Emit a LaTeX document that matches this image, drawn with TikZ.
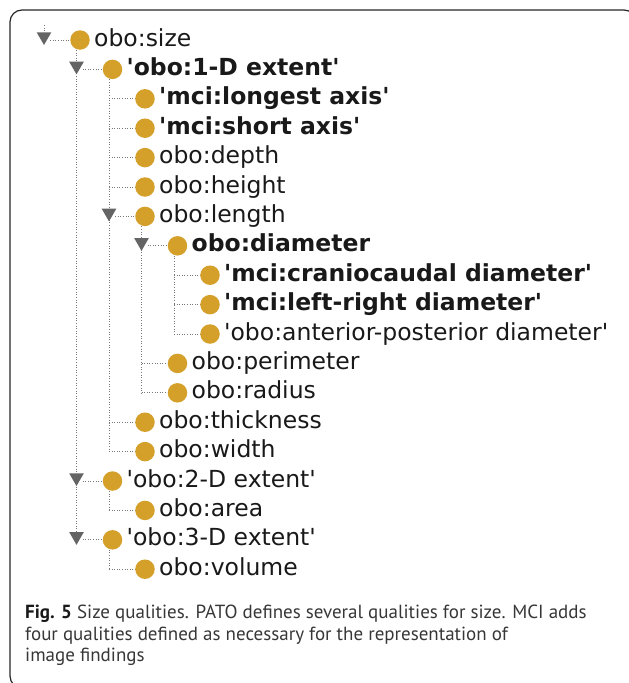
\documentclass[tikz,border=0pt]{standalone}
\usepackage{fontspec}
\usepackage{xcolor}
\usepackage{tikz}
\usetikzlibrary{shapes.geometric, positioning, backgrounds}
\newfontfamily\treefont{DejaVu Sans}
\newfontfamily\capfont{PT Sans}
\definecolor{clsgold}{RGB}{212, 160, 42}
\definecolor{toggray}{RGB}{100, 100, 100}
\definecolor{linegray}{RGB}{120, 120, 120}
\definecolor{txtdark}{RGB}{25, 25, 25}
\definecolor{captxt}{RGB}{55, 55, 55}
\tikzset{
    clsnode/.style = {circle, fill=clsgold, draw=none, minimum size=19.5pt, inner sep=0pt},
    lblnode/.style = {anchor=west, inner sep=0pt, text height=17pt, text depth=5pt,
      text=txtdark, font=\treefont\fontsize{23.5}{28}\selectfont},
    tognode/.style = {regular polygon, regular polygon sides=3, shape border rotate=180,
      fill=toggray, draw=none, minimum size=17pt, inner sep=0pt},
    tline/.style = {draw=linegray, line width=1pt, dash pattern=on 1pt off 1.6pt},
    frame/.style = {draw=black!85, line width=1.2pt, rounded corners=12pt}
}

\begin{document}
\begin{tikzpicture}[x=1pt, y=-1pt]
    \useasboundingbox (0,0) rectangle (629,683);
    \draw[frame] (10,10) rectangle (636,688);

    % tree rows: name / level / row / label
    \foreach \nm/\lv/\rw/\tx in {
        size/0/1/{obo:size},
        extA/1/2/{\bfseries 'obo:1-D extent'},
        longest/2/3/{\bfseries 'mci:longest axis'},
        short/2/4/{\bfseries 'mci:short axis'},
        depth/2/5/{obo:depth},
        height/2/6/{obo:height},
        length/2/7/{obo:length},
        diameter/3/8/{\bfseries obo:diameter},
        cranio/4/9/{\bfseries 'mci:craniocaudal diameter'},
        leftright/4/10/{\bfseries 'mci:left-right diameter'},
        antpost/4/11/{'obo:anterior-posterior diameter'},
        perimeter/3/12/{obo:perimeter},
        radius/3/13/{obo:radius},
        thickness/2/14/{obo:thickness},
        width/2/15/{obo:width},
        extB/1/16/{'obo:2-D extent'},
        area/2/17/{obo:area},
        extC/1/18/{'obo:3-D extent'},
        volume/2/19/{obo:volume}} {
        \node[clsnode] (\nm) at ({80+32.5*\lv}, {40+29.4*(\rw-1)}) {};
        \coordinate (\nm-k) at ({44+32.5*\lv}, {40+29.4*(\rw-1)});
        \node[lblnode, right=4pt of \nm] (\nm-t) {\tx};
    }

    % expand toggles
    \foreach \nm in {size, extA, length, diameter, extB, extC}
        \node[tognode] (\nm-g) at ([yshift=3.5pt]\nm-k) {};

    \coordinate (root) at (44, 25);

    \begin{scope}[on background layer]
        \draw[tline] (root) -- (size-g.north);
        \draw[tline] (size.south -| extA-k) -- (extC-g.north);
        \draw[tline] (extA.south -| longest-k) -- (width-k);
        \draw[tline] (length.south -| diameter-k) -- (radius-k);
        \draw[tline] (diameter.south -| cranio-k) -- (antpost-k);
        \draw[tline] (extB.south -| area-k) -- (area-k);
        \draw[tline] (extC.south -| volume-k) -- (volume-k);
        \foreach \nm in {longest, short, depth, height, cranio, leftright, antpost,
            perimeter, radius, thickness, width, area, volume}
            \draw[tline] (\nm-k) -- (\nm.west);
        \foreach \nm in {size, extA, length, diameter, extB, extC}
            \draw[tline] ([xshift=1pt]\nm-g.east |- \nm.west) -- (\nm.west);
    \end{scope}

    \node[anchor=north west, inner sep=0pt, align=left, text=captxt,
        font=\capfont\fontsize{19}{21.5}\selectfont] (caption) at (25, 605)
        {{\bfseries\color{black!90}Fig. 5} Size qualities. PATO defines several qualities for size. MCI adds\\
         four qualities defined as necessary for the representation of\\
         image findings};
\end{tikzpicture}
\end{document}
